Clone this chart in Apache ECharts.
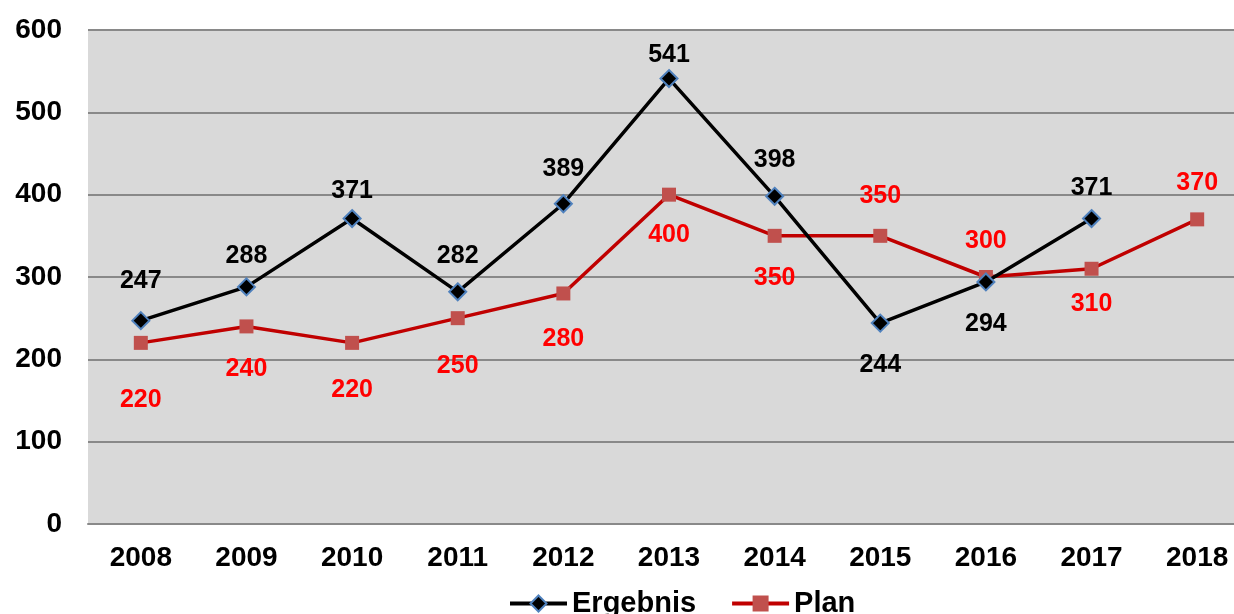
<!DOCTYPE html>
<html>
<head>
<meta charset="utf-8">
<script src="https://cdn.jsdelivr.net/npm/echarts@6/dist/echarts.min.js"></script>
<style>
  html, body { margin: 0; padding: 0; background: #fff; overflow: hidden; }
  #chart { width: 1250px; height: 614px; }
</style>
</head>
<body>
<div id="chart"></div>
<script>
// Daten
const years = ["2008", "2009", "2010", "2011", "2012", "2013", "2014", "2015", "2016", "2017", "2018"];
const ergebnis = [247, 288, 371, 282, 389, 541, 398, 244, 294, 371, null];
const plan = [220, 240, 220, 250, 280, 400, 350, 350, 300, 310, 370];
const yTicks = [0, 100, 200, 300, 400, 500, 600];

// Lage der Beschriftungen (oben/unten + Feinkorrektur in px)
const ergebnisLabelPos = ["top", "top", "top", "top", "top", "top", "top", "bottom", "bottom", "top", "top"];
const ergebnisLabelShift = [4, 13, 17, 8, 9, 21, 8, -2, -2, 14, 0];
const planLabelPos = ["bottom", "bottom", "bottom", "bottom", "bottom", "bottom", "bottom", "top", "top", "bottom", "top"];
const planLabelShift = [14, -1, 4, 4, 2, -3, -1, 4, 8, -8, 7];

const font = "'Liberation Sans', Arial, sans-serif";

const chart = echarts.init(document.getElementById("chart"));

const option = {
  animation: false,
  textStyle: { fontFamily: font },
  grid: {
    left: 88,
    right: 0,
    top: 30,
    bottom: 90,
    show: true,
    backgroundColor: "#D9D9D9",
    borderWidth: 0,
  },
  legend: {
    bottom: -9,
    left: 503,
    itemWidth: 57,
    itemHeight: 20,
    itemGap: 34,
    lineStyle: { width: 4 },
    textStyle: { fontSize: 29, fontWeight: "bold", color: "#000", fontFamily: font },
    data: ["Ergebnis", "Plan"],
  },
  xAxis: {
    type: "category",
    data: years,
    boundaryGap: true,
    axisLine: { lineStyle: { color: "#898989", width: 2 } },
    axisTick: { show: false },
    axisLabel: { fontSize: 28, fontWeight: "bold", color: "#000", margin: 20, fontFamily: font },
  },
  yAxis: {
    type: "value",
    min: yTicks[0],
    max: yTicks[yTicks.length - 1],
    interval: 100,
    axisLine: { show: false },
    axisTick: { show: false },
    splitLine: { lineStyle: { color: "#898989", width: 2 } },
    axisLabel: { fontSize: 28, fontWeight: "bold", color: "#000", margin: 26, fontFamily: font },
  },
  series: [
    {
      name: "Ergebnis",
      type: "line",
      data: ergebnis.map((v, i) => ({
        value: v,
        label: { position: ergebnisLabelPos[i], offset: [0, ergebnisLabelShift[i]] },
      })),
      symbol: "diamond",
      symbolSize: 17,
      lineStyle: { color: "#000", width: 3.5 },
      itemStyle: { color: "#000", borderColor: "#4F81BD", borderWidth: 2 },
      label: {
        show: true,
        distance: 22,
        fontSize: 25,
        fontWeight: "bold",
        color: "#000",
        fontFamily: font,
      },
      z: 3,
    },
    {
      name: "Plan",
      type: "line",
      data: plan.map((v, i) => ({
        value: v,
        label: { position: planLabelPos[i], offset: [0, planLabelShift[i]] },
      })),
      symbol: "rect",
      symbolSize: 14,
      lineStyle: { color: "#C00000", width: 3.5 },
      itemStyle: { color: "#C0504D" },
      label: {
        show: true,
        distance: 24,
        fontSize: 25,
        fontWeight: "bold",
        color: "#FF0000",
        fontFamily: font,
      },
      z: 2,
    },
  ],
};

chart.setOption(option);
</script>
</body>
</html>
